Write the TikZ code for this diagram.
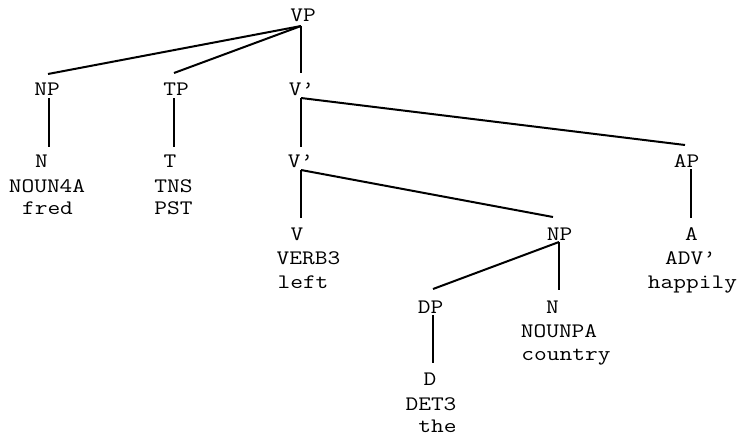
\documentclass[tikz,border=0pt]{standalone}
\usepackage{fontspec}
\setmainfont[FakeStretch=1.2]{Latin Modern Mono}
\begin{document}
\begin{tikzpicture}[x=1pt,y=-1pt,
  lbl/.style={font=\fontsize{20.6}{24}\selectfont, anchor=base, inner sep=0pt, text depth=0pt},
  edge/.style={line width=2pt, line cap=butt, line join=miter}]
\useasboundingbox (0,0) rectangle (738,436);
% level 1
\node[lbl] (vp) at (303,22) {VP};
% level 2
\node[lbl] (np) at (47,95) {NP};
\node[lbl] (tp) at (176,95) {TP};
\node[lbl] (vbarA) at (301.5,95) {V'};
% level 3
\node[lbl] (nA) at (41.5,167.5) {N};
\node[lbl] (nAb) at (47,192) {NOUN4A};
\node[lbl] (nAc) at (47.5,214.5) {fred};
\node[lbl] (t) at (170,167.5) {T};
\node[lbl] (tb) at (173.5,192) {TNS};
\node[lbl] (tc) at (173.5,214.5) {PST};
\node[lbl] (vbarB) at (300.5,167.5) {V'};
\node[lbl] (ap) at (686.5,167.5) {AP};
% level 4
\node[lbl] (v) at (297,240) {V};
\node[lbl] (vb) at (308.5,264.5) {VERB3};
\node[lbl] (vc) at (303,288) {left};
\node[lbl] (npB) at (559.5,240) {NP};
\node[lbl] (a) at (691.5,240) {A};
\node[lbl] (ab) at (690.5,264.5) {ADV'};
\node[lbl] (ac) at (692.5,288) {happily};
% level 5
\node[lbl] (dp) at (430.5,313) {DP};
\node[lbl] (nB) at (552.5,313) {N};
\node[lbl] (nBb) at (559,337.5) {NOUNPA};
\node[lbl] (nBc) at (566,360.5) {country};
% level 6
\node[lbl] (d) at (430,385.5) {D};
\node[lbl] (db) at (431,410) {DET3};
\node[lbl] (dc) at (437.5,432.5) {the};
% connector anchors
\coordinate (vpBot) at (301,26);
\coordinate (npTop) at (48,74);
\coordinate (tpTop) at (174,73);
\coordinate (vbarATop) at (301,73);
\coordinate (npBot) at (49,98);
\coordinate (nATop) at (49,147);
\coordinate (tpBot) at (174,98);
\coordinate (tTop) at (174,147);
\coordinate (vbarABot) at (301,98);
\coordinate (vbarBTop) at (301,147);
\coordinate (apTop) at (685,145);
\coordinate (vbarBBot) at (301,170);
\coordinate (vTop) at (301,218);
\coordinate (npBTop) at (553,217);
\coordinate (apBot) at (691,169);
\coordinate (aTop) at (691,218);
\coordinate (npBBot) at (559,242);
\coordinate (dpTop) at (433,289);
\coordinate (nBTop) at (559,290);
\coordinate (dpBot) at (433,315);
\coordinate (dTop) at (433,363);
% connectors
\draw[edge] (vpBot) -- (npTop);
\draw[edge] (vpBot) -- (tpTop);
\draw[edge] (vpBot) -- (vbarATop);
\draw[edge] (npBot) -- (nATop);
\draw[edge] (tpBot) -- (tTop);
\draw[edge] (vbarABot) -- (vbarBTop);
\draw[edge] (vbarABot) -- (apTop);
\draw[edge] (vbarBBot) -- (vTop);
\draw[edge] (vbarBBot) -- (npBTop);
\draw[edge] (apBot) -- (aTop);
\draw[edge] (npBBot) -- (dpTop);
\draw[edge] (npBBot) -- (nBTop);
\draw[edge] (dpBot) -- (dTop);
\end{tikzpicture}
\end{document}
